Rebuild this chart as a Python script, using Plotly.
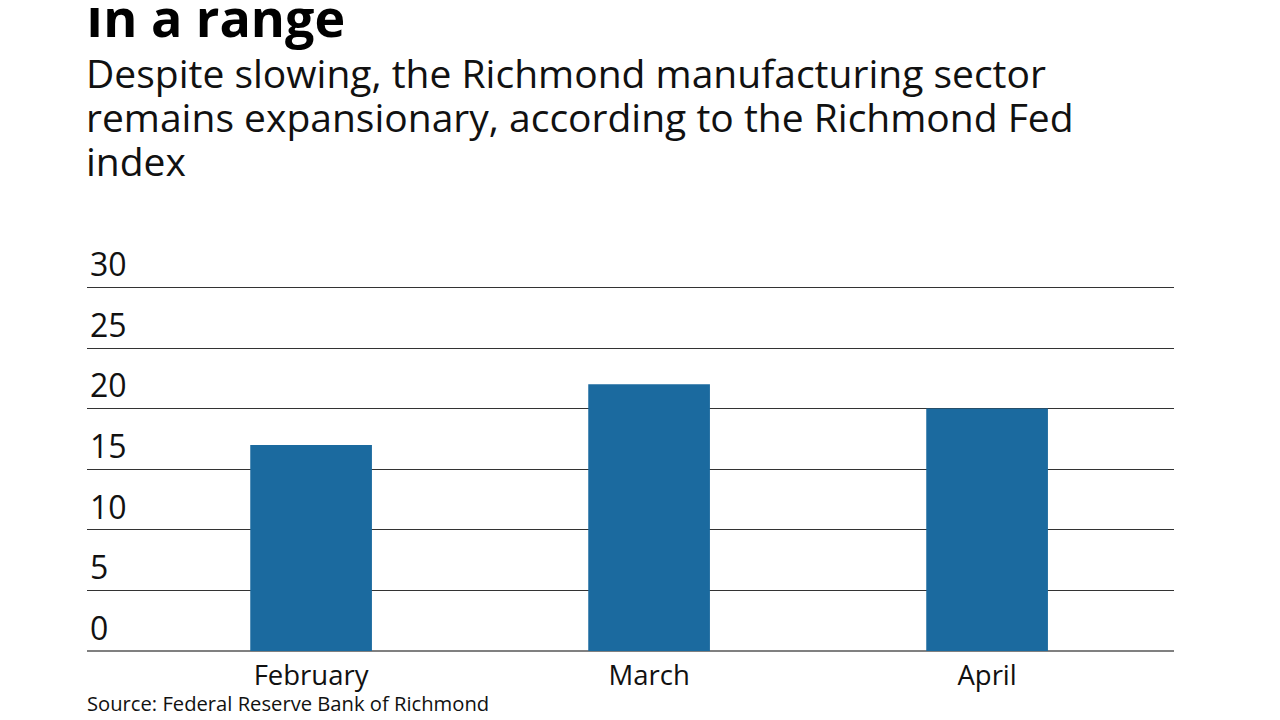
import plotly.graph_objects as go

months = ["February", "March", "April"]
index_values = [17, 22, 20]
y_ticks = [0, 5, 10, 15, 20, 25, 30]

title = "In a range"
subtitle_lines = [
    "Despite slowing, the Richmond manufacturing sector",
    "remains expansionary, according to the Richmond Fed",
    "index",
]
source = "Source: Federal Reserve Bank of Richmond"

FONT = "Open Sans"
TOP = 236.5  # plot top in figure px

fig = go.Figure(go.Bar(x=months, y=index_values, marker_color="#1b6a9f",
                       marker_line_width=0, width=0.36))

annotations = [
    dict(text=f"<b>{title}</b>", x=0, xref="paper", xanchor="left", xshift=-3,
         y=1, yref="paper", yanchor="top", yshift=TOP + 30, showarrow=False,
         font=dict(size=52, color="#000")),
]
for i, line in enumerate(subtitle_lines):
    annotations.append(dict(text=line, x=0, xref="paper", xanchor="left", xshift=-3,
                            y=1, yref="paper", yanchor="top",
                            yshift=TOP - 35 - 44 * i, showarrow=False,
                            font=dict(size=39, color="#111")))
annotations.append(dict(text=source, x=0, xref="paper", xanchor="left", xshift=-2,
                        y=0, yref="paper", yanchor="top", yshift=-36, showarrow=False,
                        font=dict(size=20.2, color="#111")))

fig.update_layout(
    width=1280, height=720,
    margin=dict(l=79, r=114, t=TOP, b=77),
    paper_bgcolor="white", plot_bgcolor="white",
    font=dict(family=FONT, color="#111"),
    showlegend=False,
    xaxis=dict(range=[-0.663, 2.553], showgrid=False, zeroline=False, showline=False,
               ticks="", ticklabelstandoff=5, tickfont=dict(size=27.5, color="#111")),
    yaxis=dict(range=[0, 33.5], tickvals=y_ticks, ticktext=[str(v) for v in y_ticks],
               showgrid=True, gridcolor="#333", gridwidth=1,
               zeroline=True, zerolinecolor="#808080", zerolinewidth=2,
               showline=False, ticks="", ticklabelposition="inside top",
               ticklabeloverflow="allow",
               tickfont=dict(size=32, color="#111")),
    annotations=annotations,
)

fig.write_html("out.html")
